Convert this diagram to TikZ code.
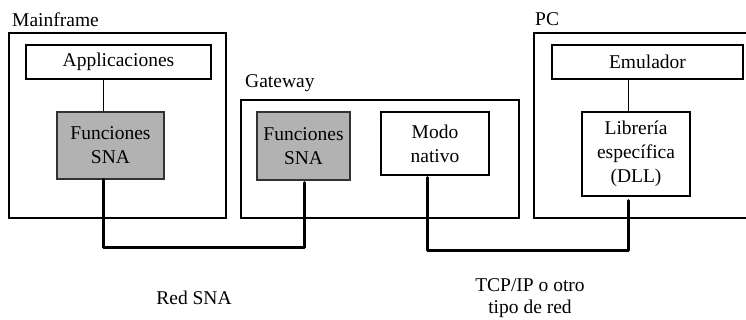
\documentclass[tikz,border=0pt]{standalone}
\usepackage{fontspec}
\setmainfont{Liberation Serif}
\definecolor{gfill}{RGB}{178,178,178}
\definecolor{gline}{RGB}{50,50,50}
\begin{document}
\begin{tikzpicture}[x=1pt,y=-1pt,
  txt/.style={font=\fontsize{19.5}{24}\selectfont},
  box/.style={draw, line width=1.2pt, inner sep=0pt, txt, align=center},
  gbox/.style={box, fill=gfill, draw=gline},
  lbl/.style={txt, inner sep=0pt},
  wire/.style={line width=3pt, line cap=round, line join=round},
  link/.style={line width=1pt}]
\useasboundingbox (0,0) rectangle (746,320);
\fill[white] (0,0) rectangle (746,320);

% containers
\node[box, minimum width=217pt, minimum height=185pt] (mf) at (117.5,125.5) {};
\node[box, minimum width=278pt, minimum height=118pt] (gw) at (380,159) {};
\node[box, minimum width=226pt, minimum height=185pt] (pc) at (647,125.5) {};

% container labels
\node[lbl, anchor=base west] (mflbl) at (12,27) {Mainframe};
\node[lbl, anchor=base west] (gwlbl) at (245,88) {Gateway};
\node[lbl, anchor=base west] (pclbl) at (535,26) {PC};

% inner boxes
\node[box, minimum width=185pt, minimum height=34pt] (app) at (118.5,62) {Applicaciones};
\node[gbox, minimum width=107pt, minimum height=67pt] (mfsna) at (110.5,145.5) {Funciones\\SNA};
\node[gbox, minimum width=93pt, minimum height=68pt] (gwsna) at (303.5,146) {Funciones\\SNA};
\node[box, minimum width=108pt, minimum height=63pt] (modo) at (435,143.5) {Modo\\nativo};
\node[box, minimum width=191pt, minimum height=34pt] (emu) at (647.5,62) {Emulador};
\node[box, minimum width=108pt, minimum height=84pt] (lib) at (636,154) {Librería\\específica\\(DLL)};

% reference x positions
\coordinate (xa) at (103,0);
\coordinate (xb) at (304,0);
\coordinate (xc) at (427,0);
\coordinate (xd) at (628,0);
\coordinate (ya) at (0,247);
\coordinate (yb) at (0,250);

% thin links
\draw[link] (app.south -| xa) -- (mfsna.north -| xa);
\draw[link] (emu.south -| xd) -- (lib.north -| xd);

% networks
\draw[wire] (mfsna.south -| xa) -- (xa |- ya) -- (xb |- ya) -- ([yshift=-2pt]gwsna.south -| xb);
\draw[wire] ([yshift=-2pt]modo.south -| xc) -- (xc |- yb) -- (xd |- yb) -- ([yshift=-4pt]lib.south -| xd);

% network labels
\node[lbl, anchor=base] (sna) at (194,304) {Red SNA};
\node[lbl, align=center, font=\fontsize{19.5}{22}\selectfont] (tcp) at (530,298) {TCP/IP o otro\\tipo de red};
\end{tikzpicture}
\end{document}
